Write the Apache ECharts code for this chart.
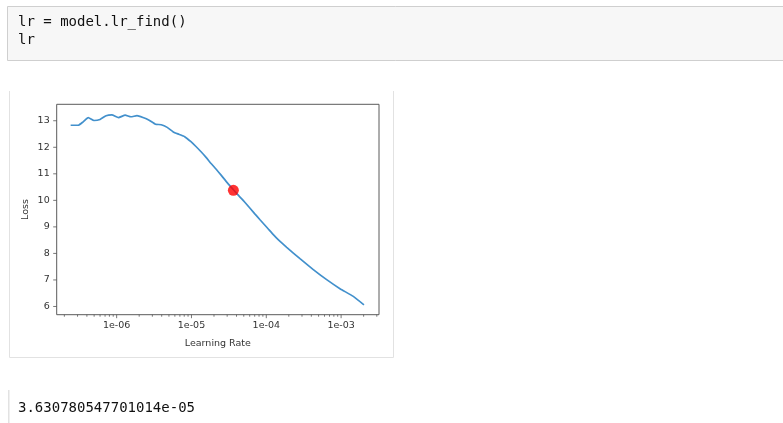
<!DOCTYPE html>
<html>
<head>
<meta charset="utf-8">
<script src="https://cdn.jsdelivr.net/npm/echarts@6/dist/echarts.min.js"></script>
<style>
html,body{margin:0;padding:0;background:#fff;}
#chart{width:783px;height:423px;}
</style>
</head>
<body>
<div id="chart"></div>
<script>
// ---- data ----
const codeLines = ['lr = model.lr_find()', 'lr'];
const outputText = '3.630780547701014e-05';
const xAxisName = 'Learning Rate';
const yAxisName = 'Loss';

const lrValues = [
  2.427e-7, 3.06e-7, 3.57e-7, 4.17e-7, 4.98e-7, 6.00e-7, 7.23e-7, 8.61e-7,
  1.059e-6, 1.30e-6, 1.55e-6, 1.87e-6, 2.25e-6, 2.68e-6, 3.30e-6, 3.94e-6,
  4.74e-6, 5.71e-6, 6.79e-6, 8.11e-6, 9.84e-6, 1.148e-5, 1.343e-5, 1.567e-5,
  1.828e-5, 2.14e-5, 2.49e-5, 3.02e-5, 3.69e-5, 4.37e-5, 5.13e-5, 6.98e-5,
  8.24e-5, 1.057e-4, 1.242e-4, 1.442e-4, 1.875e-4, 2.82e-4, 4.25e-4, 6.41e-4,
  9.66e-4, 1.455e-3, 2.02e-3
];
const lossValues = [
  12.83, 12.83, 12.96, 13.12, 13.01, 13.05, 13.19, 13.22,
  13.12, 13.21, 13.15, 13.19, 13.12, 13.03, 12.87, 12.85,
  12.75, 12.58, 12.49, 12.40, 12.21, 12.03, 11.83, 11.62,
  11.39, 11.17, 10.95, 10.66, 10.38, 10.15, 9.94, 9.50,
  9.27, 8.93, 8.71, 8.52, 8.23, 7.80, 7.39, 7.01,
  6.67, 6.38, 6.06
];
const suggestedLr = [3.630780547701014e-05];
const suggestedLoss = [10.38];

const xMajorTicks = [1e-6, 1e-5, 1e-4, 1e-3];
const xMinorTicks = [
  2e-7, 3e-7, 4e-7, 5e-7, 6e-7, 7e-7, 8e-7, 9e-7,
  2e-6, 3e-6, 4e-6, 5e-6, 6e-6, 7e-6, 8e-6, 9e-6,
  2e-5, 3e-5, 4e-5, 5e-5, 6e-5, 7e-5, 8e-5, 9e-5,
  2e-4, 3e-4, 4e-4, 5e-4, 6e-4, 7e-4, 8e-4, 9e-4,
  2e-3, 3e-3
];
const yTicks = [6, 7, 8, 9, 10, 11, 12, 13];

const X_MIN = 1.58e-7, X_MAX = 3.21e-3;
const Y_MIN = 5.69, Y_MAX = 13.62;

// ---- build ----
const lineData = lrValues.map((v, i) => [v, lossValues[i]]);
const pointData = suggestedLr.map((v, i) => [v, suggestedLoss[i]]);
const xTickData = xMajorTicks.map(v => [v, 1]).concat(xMinorTicks.map(v => [v, 0]));
const yTickData = yTicks.map(v => [X_MIN, v]);

const TEXT = '#333';
const mono = '"DejaVu Sans Mono", "Liberation Mono", monospace';

function fmtX(v) {
  const e = Math.log10(v);
  const r = Math.round(e);
  if (Math.abs(e - r) > 1e-6) return '';
  const sign = r < 0 ? '-' : '+';
  return '1e' + sign + String(Math.abs(r)).padStart(2, '0');
}

const chart = echarts.init(document.getElementById('chart'), null, {renderer: 'canvas'});
chart.setOption({
  animation: false,
  backgroundColor: '#ffffff',
  grid: {
    left: 56.7, top: 104.3, width: 322.3, height: 210.4,
    show: true, borderColor: '#5a5a5a', borderWidth: 1, backgroundColor: '#fff'
  },
  xAxis: {
    type: 'log', logBase: 10, min: X_MIN, max: X_MAX,
    name: xAxisName, nameLocation: 'middle', nameGap: 24,
    nameTextStyle: {color: TEXT, fontFamily: 'DejaVu Sans', fontSize: 9.5},
    axisLine: {show: false}, axisTick: {show: false}, splitLine: {show: false},
    axisLabel: {color: TEXT, fontFamily: 'DejaVu Sans', fontSize: 9.5, margin: 6, formatter: fmtX}
  },
  yAxis: {
    type: 'value', min: Y_MIN, max: Y_MAX, splitNumber: 8,
    name: yAxisName, nameLocation: 'middle', nameGap: 26,
    nameTextStyle: {color: TEXT, fontFamily: 'DejaVu Sans', fontSize: 9.5},
    axisLine: {show: false}, axisTick: {show: false}, splitLine: {show: false},
    axisLabel: {
      color: TEXT, fontFamily: 'DejaVu Sans', fontSize: 9.5, margin: 7,
      formatter: v => Math.abs(v - Math.round(v)) < 1e-9 ? String(Math.round(v)) : ''
    }
  },
  series: [
    {
      type: 'line', data: lineData, showSymbol: false, smooth: 0.15,
      lineStyle: {color: '#4290cc', width: 1.7}, z: 3, silent: true
    },
    {
      type: 'scatter', data: pointData, symbol: 'circle', symbolSize: 11,
      itemStyle: {color: '#ff0000'}, z: 5, silent: true
    },
    {
      type: 'custom', data: xTickData, clip: false, silent: true, z: 4,
      renderItem: (params, api) => {
        const p = api.coord([api.value(0), Y_MIN]);
        const len = api.value(1) ? 3.5 : 2;
        return {type: 'line', shape: {x1: p[0], y1: p[1], x2: p[0], y2: p[1] + len},
          style: {stroke: '#555', lineWidth: 0.8}};
      }
    },
    {
      type: 'custom', data: yTickData, clip: false, silent: true, z: 4,
      renderItem: (params, api) => {
        const p = api.coord([api.value(0), api.value(1)]);
        return {type: 'line', shape: {x1: p[0] - 3.5, y1: p[1], x2: p[0], y2: p[1]},
          style: {stroke: '#555', lineWidth: 0.8}};
      }
    }
  ],
  graphic: [
    // code input cell
    {type: 'rect', shape: {x: 7.5, y: 6.5, width: 800, height: 54},
      style: {fill: '#f7f7f7', stroke: '#cfcfcf', lineWidth: 1}, z: -1},
    {type: 'text', x: 18, y: 22, style: {text: codeLines[0], font: '14px ' + mono, fill: '#111', textVerticalAlign: 'middle'}},
    {type: 'text', x: 18, y: 40, style: {text: codeLines[1], font: '14px ' + mono, fill: '#111', textVerticalAlign: 'middle'}},
    // output figure frame
    {type: 'polyline', shape: {points: [[9.5, 91], [9.5, 357.5], [393.5, 357.5], [393.5, 91]]},
      style: {stroke: '#e2e2e2', lineWidth: 1, fill: null}, z: -1},
    // output text
    {type: 'rect', shape: {x: 8, y: 390, width: 1.5, height: 33}, style: {fill: '#e2e2e2'}},
    {type: 'text', x: 18, y: 408, style: {text: outputText, font: '14px ' + mono, fill: '#111', textVerticalAlign: 'middle'}}
  ]
});
</script>
</body>
</html>
